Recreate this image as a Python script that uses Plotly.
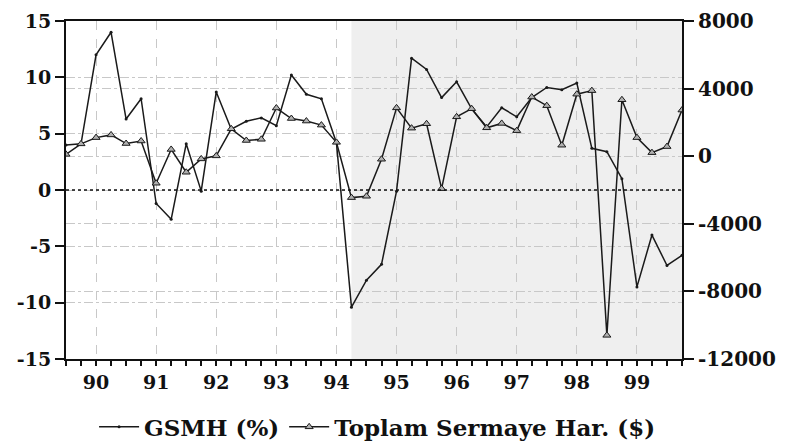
import pandas as pd
import plotly.graph_objects as go

# Quarterly observations, 1989Q3 - 1999Q4
quarters = [str(p) for p in pd.period_range("1989Q3", "1999Q4", freq="Q")]

# GSMH growth (%), left axis
gsmh = [4.0, 4.1, 12.0, 14.0, 6.3, 8.1, -1.2, -2.6, 4.1, -0.1,
        8.7, 5.4, 6.1, 6.4, 5.7, 10.2, 8.5, 8.1, 4.2, -10.4,
        -8.0, -6.6, -0.1, 11.7, 10.7, 8.2, 9.6, 7.2, 5.6, 7.3,
        6.5, 8.2, 9.1, 8.9, 9.5, 3.7, 3.4, 1.0, -8.6, -4.0,
        -6.7, -5.8]

# Total capital movements (million $), right axis
sermaye = [110, 730, 1100, 1260, 750, 900, -1600, 400, -950, -160,
           20, 1620, 930, 1000, 2850, 2230, 2080, 1840, 820, -2450,
           -2370, -180, 2860, 1660, 1920, -1920, 2330, 2810, 1680, 1940,
           1510, 3500, 2990, 650, 3670, 3880, -10600, 3340, 1100, 210,
           570, 2730]

year_ticks = [1990, 1991, 1992, 1993, 1994, 1995, 1996, 1997, 1998, 1999]
year_labels = ["90", "91", "92", "93", "94", "95", "96", "97", "98", "99"]

left_ticks = [-15, -10, -5, 0, 5, 10, 15]
right_ticks = [-12000, -8000, -4000, 0, 4000, 8000]

shade_start = "1994Q2"


def qpos(label):
    year, q = label.split("Q")
    return int(year) + (int(q) - 1) / 4


x = [qpos(q) for q in quarters]
x_lo, x_hi = x[0], x[-1]

FONT = "DejaVu Serif"
INK = "#111111"
GRID = "#c8c8c8"

fig = go.Figure()

fig.add_trace(go.Scatter(
    x=x, y=gsmh, name="GSMH (%)", mode="lines+markers",
    line=dict(color="#1a1a1a", width=1.5),
    marker=dict(symbol="circle", size=3, color="#1a1a1a"),
))
fig.add_trace(go.Scatter(
    x=x, y=sermaye, name="Toplam Sermaye Har. ($)", yaxis="y2",
    mode="lines+markers",
    line=dict(color="#1a1a1a", width=1.5),
    marker=dict(symbol="triangle-up", size=7, color="#b0b0b0",
                line=dict(color="#1a1a1a", width=1)),
))

# shaded period
fig.add_shape(type="rect", xref="x", yref="paper",
              x0=qpos(shade_start), x1=x_hi, y0=0, y1=1,
              fillcolor="#efefef", line=dict(width=0), layer="below")
# dotted zero line of the left scale
fig.add_shape(type="line", xref="paper", yref="y",
              x0=0, x1=1, y0=0, y1=0,
              line=dict(color="#111111", width=1.5, dash="dot"))

tick_font = dict(family=FONT, size=19, color=INK, weight="bold")
right_font = dict(family=FONT, size=20, color=INK, weight="bold")

fig.update_layout(
    width=789, height=447,
    margin=dict(l=66, r=107, t=21, b=88),
    paper_bgcolor="white", plot_bgcolor="rgba(0,0,0,0)",
    showlegend=True,
    legend=dict(orientation="h", x=0.505, xanchor="center",
                y=0.045, yref="container", yanchor="middle",
                font=dict(family=FONT, size=23, color=INK, weight="bold"),
                bgcolor="rgba(0,0,0,0)", itemwidth=40, tracegroupgap=0),
    xaxis=dict(
        range=[x_lo, x_hi], tickmode="array", tickvals=year_ticks,
        ticktext=year_labels, ticks="outside", ticklen=5, tickwidth=1.5,
        tickcolor="#111", showline=True, linecolor="#111", linewidth=2,
        mirror=True, showgrid=True, gridcolor=GRID, griddash="dash",
        gridwidth=1.2, zeroline=False, tickfont=tick_font, automargin=False,
        minor=dict(tickmode="array", tickvals=x, ticks="outside",
                   ticklen=5, tickwidth=1.5, tickcolor="#111",
                   showgrid=False),
    ),
    yaxis=dict(
        range=[-15, 15], tickmode="array", tickvals=left_ticks,
        ticktext=[str(v) for v in left_ticks], ticks="outside", ticklen=9,
        tickwidth=1.5, tickcolor="#111", showline=True, linecolor="#111",
        linewidth=2, showgrid=True, gridcolor=GRID, griddash="dashdot",
        gridwidth=1.2, zeroline=False, tickfont=tick_font, automargin=False,
    ),
    yaxis2=dict(
        range=[-12000, 8000], tickmode="array", tickvals=right_ticks,
        ticktext=[str(v) for v in right_ticks], overlaying="y",
        side="right", ticks="outside", ticklen=10, tickwidth=1.5,
        tickcolor="#111", showline=True, linecolor="#111", linewidth=2,
        showgrid=True, gridcolor=GRID, griddash="dashdot", gridwidth=1.2,
        zeroline=False, tickfont=right_font, automargin=False,
    ),
)

fig.write_html("out.html")
